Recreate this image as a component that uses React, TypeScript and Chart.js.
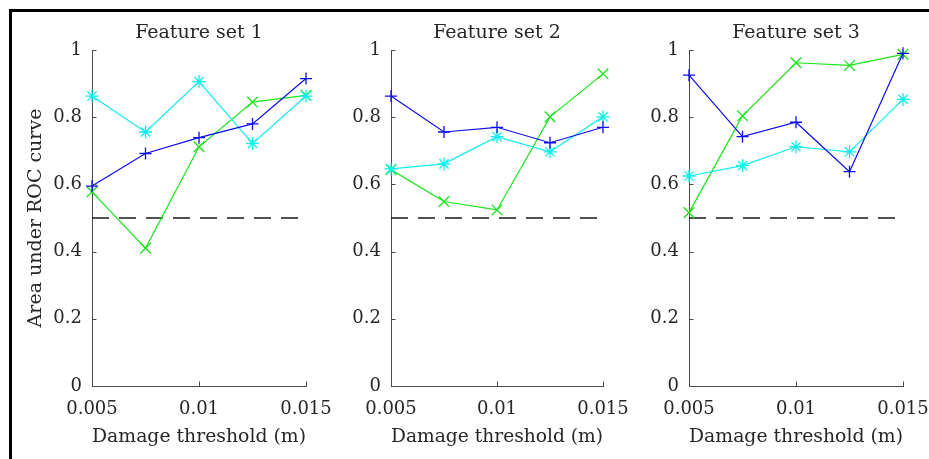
import React, { useEffect, useRef } from 'react';
import { Chart, registerables } from 'chart.js';

Chart.register(...registerables);

// ---------------- data ----------------
const thresholds = [0.005, 0.0075, 0.01, 0.0125, 0.015];
const xTickValues = [0.005, 0.01, 0.015];
const yTickValues = [0, 0.2, 0.4, 0.6, 0.8, 1];
const chanceLevel = 0.5;
const panelTitles = ['Feature set 1', 'Feature set 2', 'Feature set 3'];
const xAxisLabel = 'Damage threshold (m)';
const yAxisLabel = 'Area under ROC curve';

// blue "+" series
const set1Plus = [0.595, 0.692, 0.739, 0.78, 0.915];
const set2Plus = [0.863, 0.756, 0.77, 0.724, 0.77];
const set3Plus = [0.925, 0.742, 0.785, 0.638, 0.99];
// cyan "*" series
const set1Star = [0.863, 0.756, 0.906, 0.722, 0.863];
const set2Star = [0.646, 0.661, 0.742, 0.697, 0.801];
const set3Star = [0.625, 0.656, 0.712, 0.697, 0.853];
// green "x" series
const set1Cross = [0.578, 0.41, 0.712, 0.845, 0.865];
const set2Cross = [0.644, 0.549, 0.524, 0.801, 0.929];
const set3Cross = [0.516, 0.804, 0.962, 0.954, 0.987];

const plusSeries = [set1Plus, set2Plus, set3Plus];
const starSeries = [set1Star, set2Star, set3Star];
const crossSeries = [set1Cross, set2Cross, set3Cross];

// ---------------- layout / style ----------------
const PAGE_W = 929;
const PAGE_H = 459;
const PLOT_LEFTS = [92, 391, 689];
const PLOT_RIGHTS = [306, 603, 903];
const PLOT_BOTTOM = 386;
const CANVAS_TOP = 12;
const CANVAS_H = PAGE_H - CANVAS_TOP;
const LEFT_SPACE = 80;
const RIGHT_SPACE = 60;

const FONT = 'DejaVu Serif';
const TEXT_COLOR = '#262626';
const AXIS_COLOR = '#4a4a4a';
const BLUE = '#0c0cee';
const CYAN = '#10eeee';
const GREEN = '#18e618';

const inwardTicks = {
  id: 'inwardTicks',
  afterDraw(chart: any) {
    const ctx = chart.ctx;
    const xs = chart.scales.x;
    const ys = chart.scales.y;
    const area = chart.chartArea;
    const len = 4.5;
    ctx.save();
    ctx.strokeStyle = AXIS_COLOR;
    ctx.lineWidth = 1;
    ctx.beginPath();
    for (const v of xTickValues) {
      const px = Math.round(xs.getPixelForValue(v)) + 0.5;
      ctx.moveTo(px, area.bottom);
      ctx.lineTo(px, area.bottom - len);
    }
    for (const v of yTickValues) {
      const py = Math.round(ys.getPixelForValue(v)) + 0.5;
      ctx.moveTo(area.left, py);
      ctx.lineTo(area.left + len, py);
    }
    ctx.stroke();
    ctx.restore();
  },
};

function toPoints(values: number[]) {
  return thresholds.map((x, i) => ({ x, y: values[i] }));
}

function Panel({ idx }: { idx: number }) {
  const ref = useRef<HTMLCanvasElement>(null);
  const L = PLOT_LEFTS[idx];
  const R = PLOT_RIGHTS[idx];
  const width = LEFT_SPACE + (R - L) + RIGHT_SPACE;

  useEffect(() => {
    const lineCommon = {
      showLine: true,
      fill: false,
      tension: 0,
      borderWidth: 1.2,
      pointBorderWidth: 1.3,
      pointBackgroundColor: 'transparent',
      clip: false as any,
    };
    const chart = new Chart(ref.current as HTMLCanvasElement, {
      type: 'line',
      data: {
        datasets: [
          {
            ...lineCommon,
            label: 'plus',
            data: toPoints(plusSeries[idx]),
            borderColor: BLUE,
            pointBorderColor: BLUE,
            pointStyle: 'cross',
            pointRadius: 6,
          },
          {
            ...lineCommon,
            label: 'star',
            data: toPoints(starSeries[idx]),
            borderColor: CYAN,
            pointBorderColor: CYAN,
            pointStyle: 'star',
            pointRadius: 6.5,
          },
          {
            ...lineCommon,
            label: 'cross',
            data: toPoints(crossSeries[idx]),
            borderColor: GREEN,
            pointBorderColor: GREEN,
            pointStyle: 'crossRot',
            pointRadius: 7.5,
          },
          {
            label: 'chance',
            data: [
              { x: xTickValues[0], y: chanceLevel },
              { x: xTickValues[xTickValues.length - 1], y: chanceLevel },
            ],
            borderColor: '#1a1a1a',
            borderWidth: 1.3,
            borderDash: [17, 10],
            pointRadius: 0,
            fill: false,
            clip: false as any,
          },
        ],
      },
      options: {
        responsive: false,
        animation: false,
        devicePixelRatio: 1,
        events: [],
        layout: { padding: { left: 0, right: RIGHT_SPACE, top: 0, bottom: 0 } },
        plugins: {
          legend: { display: false },
          tooltip: { enabled: false },
          title: {
            display: true,
            text: panelTitles[idx],
            fullSize: false,
            color: TEXT_COLOR,
            font: { family: FONT, size: 19, weight: 'normal', lineHeight: 1.2 },
            padding: { top: 10, bottom: 5.2 },
          },
        },
        scales: {
          x: {
            type: 'linear',
            position: 'bottom',
            min: xTickValues[0],
            max: xTickValues[xTickValues.length - 1],
            afterBuildTicks: (s: any) => {
              s.ticks = xTickValues.map((v) => ({ value: v }));
            },
            afterFit: (s: any) => {
              s.height = CANVAS_H - (PLOT_BOTTOM - CANVAS_TOP);
            },
            ticks: {
              callback: (v: any) => String(v),
              color: TEXT_COLOR,
              font: { family: FONT, size: 18, lineHeight: 1.2 },
              padding: 13,
              maxRotation: 0,
              autoSkip: false,
            },
            grid: { display: false, drawTicks: false },
            border: { display: true, color: AXIS_COLOR, width: 1 },
            title: {
              display: true,
              text: xAxisLabel,
              color: TEXT_COLOR,
              font: { family: FONT, size: 19, lineHeight: 1.2 },
              padding: { top: 0, bottom: 10.6 },
            },
          },
          y: {
            type: 'linear',
            position: 'left',
            min: yTickValues[0],
            max: yTickValues[yTickValues.length - 1],
            afterBuildTicks: (s: any) => {
              s.ticks = yTickValues.map((v) => ({ value: v }));
            },
            afterFit: (s: any) => {
              s.width = LEFT_SPACE;
            },
            ticks: {
              callback: (v: any) => String(v),
              color: TEXT_COLOR,
              font: { family: FONT, size: 18, lineHeight: 1.2 },
              padding: 10,
              autoSkip: false,
            },
            grid: { display: false, drawTicks: false },
            border: { display: true, color: AXIS_COLOR, width: 1 },
            title: {
              display: idx === 0,
              text: yAxisLabel,
              color: TEXT_COLOR,
              font: { family: FONT, size: 19, lineHeight: 1.2 },
              padding: { top: 12.6, bottom: 0 },
            },
          },
        },
      } as any,
      plugins: [inwardTicks],
    });
    return () => chart.destroy();
  }, [idx]);

  return (
    <canvas
      ref={ref}
      width={width}
      height={CANVAS_H}
      style={{
        position: 'absolute',
        left: L - LEFT_SPACE,
        top: CANVAS_TOP,
        width,
        height: CANVAS_H,
      }}
    />
  );
}

export default function App() {
  return (
    <div
      style={{
        position: 'fixed',
        left: 0,
        top: 0,
        width: PAGE_W,
        height: PAGE_H,
        overflow: 'hidden',
        background: '#ffffff',
      }}
    >
      <div
        style={{
          position: 'absolute',
          left: 9,
          top: 9,
          width: PAGE_W + 40,
          height: PAGE_H + 40,
          border: '3px solid #000',
          boxSizing: 'border-box',
        }}
      />
      {[0, 1, 2].map((i) => (
        <Panel key={i} idx={i} />
      ))}
    </div>
  );
}
